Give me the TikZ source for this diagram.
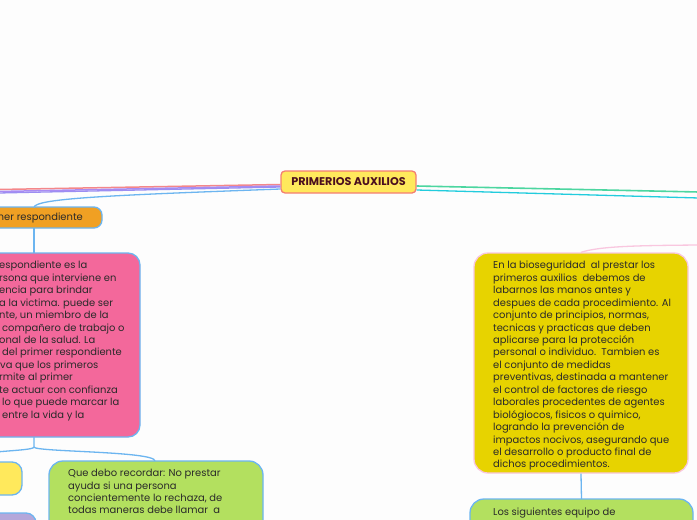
\documentclass[tikz,border=0pt]{standalone}
\usepackage{fontspec}
\setmainfont{Poppins}
\definecolor{bgc}{HTML}{FDFDFD}
\definecolor{bluec}{HTML}{6CB5F0}
\definecolor{cyel}{HTML}{FFE95C}
\definecolor{cred}{HTML}{F47E72}
\definecolor{cmar}{HTML}{4B0F1E}
\definecolor{corg}{HTML}{F0A023}
\definecolor{cpink}{HTML}{F3689B}
\definecolor{cgreen}{HTML}{B3E05F}
\definecolor{colive}{HTML}{E7D300}
\definecolor{clpink}{HTML}{F9C7DF}
\definecolor{cpurp}{HTML}{B4A7DA}
\definecolor{lpink}{HTML}{F4878A}
\definecolor{lpurp}{HTML}{A98BF3}
\definecolor{lpurp2}{HTML}{9C8EF2}
\definecolor{lgreen}{HTML}{4CD6A0}
\definecolor{lcyan}{HTML}{22CCDD}
\definecolor{txt}{HTML}{2A2A2A}
\begin{document}
\begin{tikzpicture}[x=1pt,y=-1pt,
  box/.style={draw=bluec,line width=1.3pt,inner sep=0pt,outer sep=0pt},
  body/.style={font=\fontsize{9.95}{12.45}\selectfont,align=left,anchor=north west,inner sep=0pt,text=txt},
  conn/.style={line width=1.3pt,bluec}]
\useasboundingbox (0,0) rectangle (697,520);
\clip (0,0) rectangle (697,520);
\fill[bgc] (0,0) rectangle (697,520);
% central
\node[draw=cred,fill=cyel,line width=1.3pt,rounded corners=4pt,minimum width=135pt,minimum height=22pt,inner sep=0pt,
  font=\fontsize{11.2}{12}\selectfont\bfseries,text=cmar] (central) at (348.5,182) {PRIMERIOS AUXILIOS};
% left lines
\coordinate (lend1) at (-2,189.5);
\coordinate (lend2) at (-2,191.5);
\coordinate (lend3) at (-2,193);
\draw[lpink,line width=1.5pt] ([yshift=-2.5pt]central.west) -- (lend1);
\draw[lpurp,line width=1.5pt] ([yshift=-4pt]central.west) -- (lend2);
\draw[lpurp2,line width=1.3pt] ([yshift=-5pt]central.west) -- (lend3);
% right lines
\coordinate (rend1) at (699,192);
\coordinate (rend2) at (699,198);
\draw[lgreen,line width=1.6pt] ([yshift=-4pt]central.east) -- (rend1);
\draw[lcyan,line width=1.3pt] ([yshift=-8pt]central.east) -- (rend2);
% orange node
\node[box,fill=corg,rounded corners=8pt,minimum width=142pt,minimum height=21pt] (prim) at (31,217.5) {};
\node[anchor=east,inner sep=0pt,font=\fontsize{9.95}{11}\selectfont,text=txt] (primt) at (83,218) {Primer respondiente};
\draw[conn] ([yshift=-7pt]central.west) .. controls (120,195) and (34,198) .. (34,207.5);
% pink node
\node[box,fill=cpink,rounded corners=12pt,minimum width=200pt,minimum height=184pt] (pinkn) at (40,345) {};
\draw[conn] (34,228) -- (34,253);
\node[body] (pinkt) at (-1,261) {espondiente es la\\
rsona que interviene en\\
encia para brindar\\
a la victima. puede ser\\
nte, un miembro de la\\
\hspace*{3pt}compañero de trabajo o\\
onal de la salud. La\\
\hspace*{3pt}del primer respondiente\\
\hspace*{1pt}va que los primeros\\
rmite al primer\\
te actuar con confianza\\
\hspace*{3pt}lo que puede marcar la\\
\hspace*{3pt}entre la vida y la};
% lower left nodes
\node[box,fill=cyel,rounded corners=10pt,minimum width=122pt,minimum height=33pt] (ylw) at (-39,478.5) {};
\node[box,fill=cpurp,rounded corners=10pt,minimum width=136pt,minimum height=50pt] (purp) at (-32,538) {};
\node[box,fill=cgreen,rounded corners=14pt,minimum width=214pt,minimum height=100pt] (grn) at (156,511) {};
\node[body] (grnt) at (68,469) {Que debo recordar: No prestar\\
ayuda si una persona\\
concientemente lo rechaza, de\\
todas maneras debe llamar\ \ a};
\coordinate (br) at (34,447);
\draw[conn] (pinkn.south -| br) -- (br) .. controls (34,452) and (-39,450) .. (ylw.north);
\draw[conn] (br) .. controls (34,452) and (155,451) .. (grn.north -| 155,0);
% right yellow node
\node[draw=clpink,fill=colive,line width=1.3pt,rounded corners=14pt,inner sep=0pt,minimum width=214pt,minimum height=220pt] (bio) at (581,363) {};
\node[body] (biot) at (493,261) {En la bioseguridad\ \ al prestar los\\
primeros auxilios\ \ debemos de\\
labarnos las manos antes y\\
despues de cada procedimiento. Al\\
conjunto de principios, normas,\\
tecnicas y practicas que deben\\
aplicarse para la protección\\
personal o individuo.\ \ Tambien es\\
el conjunto de medidas\\
preventivas, destinada a mantener\\
el control de factores de riesgo\\
laborales procedentes de agentes\\
biológiocos, fisicos o quimico,\\
logrando la prevención de\\
impactos nocivos, asegurando que\\
el desarrollo o producto final de\\
dichos procedimientos.};
\coordinate (pend) at (699,245);
\draw[clpink,line width=1.3pt] (bio.north) .. controls (600,246) and (640,245.5) .. (pend);
% bottom right green
\node[box,fill=cgreen,rounded corners=14pt,minimum width=223pt,minimum height=100pt] (equip) at (581.5,549) {};
\draw[conn] (bio.south) -- (equip.north);
\node[body] (equipt) at (493,508) {Los siguientes equipo de};
\end{tikzpicture}
\end{document}
